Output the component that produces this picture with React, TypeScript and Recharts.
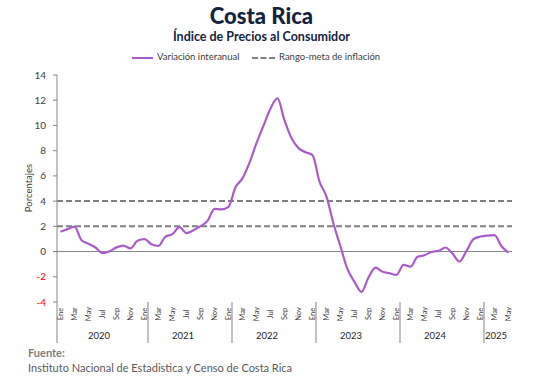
import { LineChart, Line, XAxis, YAxis, ReferenceLine } from 'recharts';

// meses (etiquetas cada dos meses en el eje)
const MONTHS = ['Ene', 'Feb', 'Mar', 'Abr', 'May', 'Jun', 'Jul', 'Ago', 'Sep', 'Oct', 'Nov', 'Dic'];
const YEARS = ['2020', '2021', '2022', '2023', '2024', '2025'];

// variación interanual del IPC, ene-2020 a may-2025
const v2020 = [1.58, 1.78, 1.97, 0.9, 0.62, 0.32, -0.12, 0.02, 0.33, 0.47, 0.25, 0.86];
const v2021 = [0.98, 0.58, 0.45, 1.19, 1.38, 1.93, 1.46, 1.69, 2.01, 2.43, 3.38, 3.35];
const v2022 = [3.55, 5.1, 5.8, 7.05, 8.6, 9.98, 11.35, 12.14, 10.4, 9.0, 8.2, 7.88];
const v2023 = [7.65, 5.55, 4.35, 2.2, 0.4, -1.4, -2.4, -3.2, -2.06, -1.27, -1.6, -1.72];
const v2024 = [-1.85, -1.06, -1.19, -0.42, -0.29, -0.03, 0.05, 0.32, -0.16, -0.79, 0.05, 0.98];
const v2025 = [1.19, 1.27, 1.3, 0.42, -0.08];

// rango-meta de inflación
const META = [2, 4];
const Y_TICKS = [-4, -2, 0, 2, 4, 6, 8, 10, 12, 14];

const series = [v2020, v2021, v2022, v2023, v2024, v2025];
const data = series.flatMap((vals, y) =>
  vals.map((v, m) => ({ mes: `${MONTHS[m]} ${YEARS[y]}`, m, y, valor: v }))
);

const PURPLE = '#A95CC9';
const GRAY = '#7F7F7F';
const FONT = 'Lato, "Noto Sans", sans-serif';
const STEP = 7;

const MonthTick = (props: any) => {
  const { x, y, payload } = props;
  const idx = payload.index;
  const d = data[idx];
  if (!d) return null;
  const out: any[] = [];
  if (d.m % 2 === 0) {
    out.push(
      <text
        key="m"
        x={0}
        y={0}
        transform={`translate(${x + 2.5},${y + 12}) rotate(-90)`}
        textAnchor="middle"
        fontSize={7.5}
        fill="#404040"
        fontFamily={FONT}
      >
        {MONTHS[d.m]}
      </text>
    );
  }
  if (idx === 0) {
    out.push(<line key="s0" x1={x - STEP / 2} x2={x - STEP / 2} y1={y} y2={y + 41} stroke="#868686" />);
  }
  if (d.m === 0 && idx > 0) {
    out.push(<line key="s" x1={x + STEP / 2} x2={x + STEP / 2} y1={y} y2={y + 41} stroke="#868686" />);
  }
  if (d.m === 0) {
    const last = d.y === YEARS.length - 1;
    out.push(
      <text
        key="y"
        x={last ? x + STEP / 2 + 1 : x + 5.5 * STEP}
        y={y + 37}
        textAnchor={last ? 'start' : 'middle'}
        fontSize={9.5}
        fontWeight={400}
        fill="#262626"
        fontFamily={FONT}
      >
        {YEARS[d.y]}
      </text>
    );
  }
  return <g>{out}</g>;
};

const ValueTick = (props: any) => {
  const { x, y, payload } = props;
  return (
    <text
      x={x}
      y={y}
      dy={3.5}
      textAnchor="end"
      fontSize={10}
      fontFamily={FONT}
      fill={payload.value < 0 ? '#FF0000' : '#404040'}
    >
      {payload.value}
    </text>
  );
};

export default function App() {
  return (
    <div style={{ position: 'absolute', left: 0, top: 0, width: 543, height: 390, background: '#fff', fontFamily: FONT }}>
      <div style={{ position: 'absolute', top: 2, left: 0, width: 523, textAlign: 'center', fontSize: 22, fontWeight: 900, color: '#14233F' }}>
        Costa Rica
      </div>
      <div style={{ position: 'absolute', top: 29, left: 0, width: 523, textAlign: 'center', fontSize: 12.5, fontWeight: 700, color: '#14233F' }}>
        Índice de Precios al Consumidor
      </div>

      {/* leyenda */}
      <div style={{ position: 'absolute', top: 57, left: 132, width: 21, height: 2, background: PURPLE }} />
      <div style={{ position: 'absolute', top: 51, left: 157, fontSize: 9.5, color: '#404040', whiteSpace: 'nowrap' }}>
        Variación interanual
      </div>
      <div style={{ position: 'absolute', top: 57, left: 252, width: 23, height: 0, borderTop: `2px dashed ${GRAY}` }} />
      <div style={{ position: 'absolute', top: 51, left: 279, fontSize: 9.5, color: '#404040', whiteSpace: 'nowrap' }}>
        Rango-meta de inflación
      </div>

      <div
        style={{
          position: 'absolute',
          left: 28,
          top: 188,
          transform: 'translate(-50%, -50%) rotate(-90deg)',
          fontSize: 9.5,
          color: '#404040',
          whiteSpace: 'nowrap',
        }}
      >
        Porcentajes
      </div>

      <div style={{ position: 'absolute', left: 0, top: 0 }}>
        <LineChart width={543} height={390} data={data} margin={{ top: 75, right: 31, bottom: 43, left: 0 }}>
          <YAxis
            type="number"
            domain={[-4, 14]}
            ticks={Y_TICKS}
            width={57}
            tickSize={4}
            tickMargin={7}
            stroke="#868686"
            tick={<ValueTick />}
            interval={0}
          />
          <XAxis
            dataKey="mes"
            interval={0}
            height={45}
            axisLine={false}
            tickLine={false}
            tickSize={0}
            tickMargin={0}
            padding={{ left: STEP / 2, right: STEP / 2 }}
            tick={<MonthTick />}
          />
          <ReferenceLine y={0} stroke="#868686" strokeWidth={1} />
          {META.map((m) => (
            <ReferenceLine
              key={m}
              y={m}
              stroke={GRAY}
              strokeWidth={2}
              strokeDasharray="6 3"
              segment={[{ x: data[0].mes, y: m }, { x: data[data.length - 1].mes, y: m }]}
            />
          ))}
          <Line
            type="monotone"
            dataKey="valor"
            stroke={PURPLE}
            strokeWidth={2.2}
            dot={false}
            isAnimationActive={false}
          />
        </LineChart>
      </div>

      <div style={{ position: 'absolute', left: 28, top: 346, fontSize: 11, fontWeight: 700, color: '#7F7F7F' }}>Fuente:</div>
      <div style={{ position: 'absolute', left: 28, top: 361, fontSize: 11, color: '#595959', whiteSpace: 'nowrap' }}>
        Instituto Nacional de Estadistica y Censo de Costa Rica
      </div>
    </div>
  );
}
